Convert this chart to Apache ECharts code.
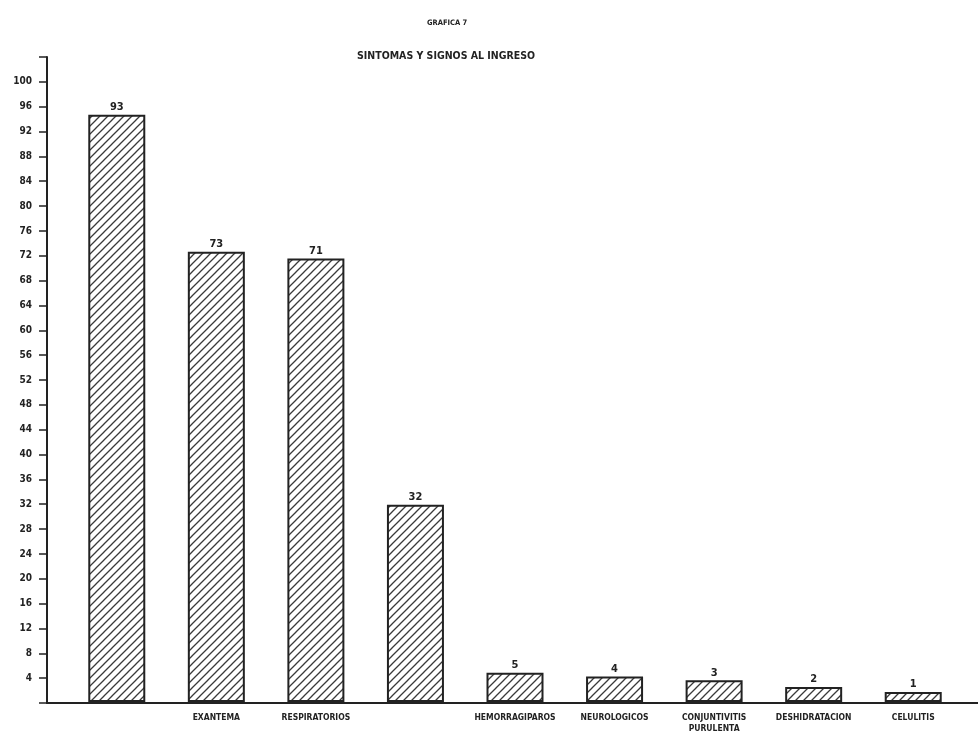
<!DOCTYPE html>
<html>
<head>
<meta charset="utf-8">
<script src="https://cdn.jsdelivr.net/npm/echarts@6/dist/echarts.min.js"></script>
<style>
html,body{margin:0;padding:0;background:#fff;}
#chart{width:978px;height:734px;}
</style>
</head>
<body>
<div id="chart"></div>
<script>
const categories = ['', 'EXANTEMA', 'RESPIRATORIOS', '', 'HEMORRAGIPAROS', 'NEUROLOGICOS', 'CONJUNTIVITIS\nPURULENTA', 'DESHIDRATACION', 'CELULITIS'];
const barHeights = [94.7, 72.6, 71.5, 31.8, 4.7, 4.1, 3.5, 2.4, 1.6];
const valueLabels = ['93', '73', '71', '32', '5', '4', '3', '2', '1'];
const yTicks = { min: 0, max: 104, interval: 4 };
const titleSmall = 'GRAFICA 7';
const titleMain = 'SINTOMAS Y SIGNOS AL INGRESO';

const FONT = '"DejaVu Sans Condensed", "DejaVu Sans", sans-serif';
const INK = '#222';

function hatch() {
  const s = 8;
  const c = document.createElement('canvas');
  c.width = s; c.height = s;
  const g = c.getContext('2d');
  g.fillStyle = '#fff';
  g.fillRect(0, 0, s, s);
  g.strokeStyle = '#3a3a3a';
  g.lineWidth = 1.3;
  g.beginPath();
  g.moveTo(-1, s + 1); g.lineTo(s + 1, -1);
  g.moveTo(-1, 1); g.lineTo(1, -1);
  g.moveTo(s - 1, s + 1); g.lineTo(s + 1, s - 1);
  g.stroke();
  return c;
}

const chart = echarts.init(document.getElementById('chart'));
chart.setOption({
  backgroundColor: '#fff',
  animation: false,
  title: [
    { text: titleSmall, left: 422, top: 14,
      textStyle: { fontFamily: FONT, fontWeight: 'bold', fontSize: 7.5, color: INK } },
    { text: titleMain, left: 352, top: 46,
      textStyle: { fontFamily: FONT, fontWeight: 'bold', fontSize: 10.5, color: INK } }
  ],
  grid: [
    { left: 67, right: 15, top: 57, bottom: 31 },
    { left: 47, right: 0, top: 57, bottom: 31 }
  ],
  xAxis: [
    { gridIndex: 1, type: 'value', min: 0, max: 1,
      axisLine: { show: true, onZero: false, lineStyle: { color: INK, width: 2 } },
      axisTick: { show: false }, axisLabel: { show: false }, splitLine: { show: false } },
    { gridIndex: 0, type: 'category', data: categories,
      axisLine: { show: false }, axisTick: { show: false }, splitLine: { show: false },
      axisLabel: { interval: 0, margin: 10, fontFamily: FONT, fontWeight: 'bold', fontSize: 8.5, color: INK, lineHeight: 11 } }
  ],
  yAxis: [
    { gridIndex: 1, type: 'value', min: yTicks.min, max: yTicks.max, interval: yTicks.interval,
      axisLine: { show: true, lineStyle: { color: INK, width: 2 } },
      axisTick: { show: true, length: 8, lineStyle: { color: INK, width: 1.5 } },
      splitLine: { show: false },
      axisLabel: { margin: 15, fontFamily: FONT, fontWeight: 'bold', fontSize: 10, color: INK,
        formatter: v => (v === yTicks.min || v === yTicks.max) ? '' : String(v) } },
    { gridIndex: 0, type: 'value', min: yTicks.min, max: yTicks.max, interval: yTicks.interval, show: false }
  ],
  series: [{
    type: 'bar',
    xAxisIndex: 1, yAxisIndex: 1,
    data: barHeights,
    barWidth: 57,
    itemStyle: { color: { image: hatch(), repeat: 'repeat' }, borderColor: INK, borderWidth: 2 },
    label: { show: true, position: 'top', distance: 2,
      fontFamily: FONT, fontWeight: 'bold', fontSize: 11, color: INK,
      formatter: p => valueLabels[p.dataIndex] }
  }]
});
</script>
</body>
</html>
